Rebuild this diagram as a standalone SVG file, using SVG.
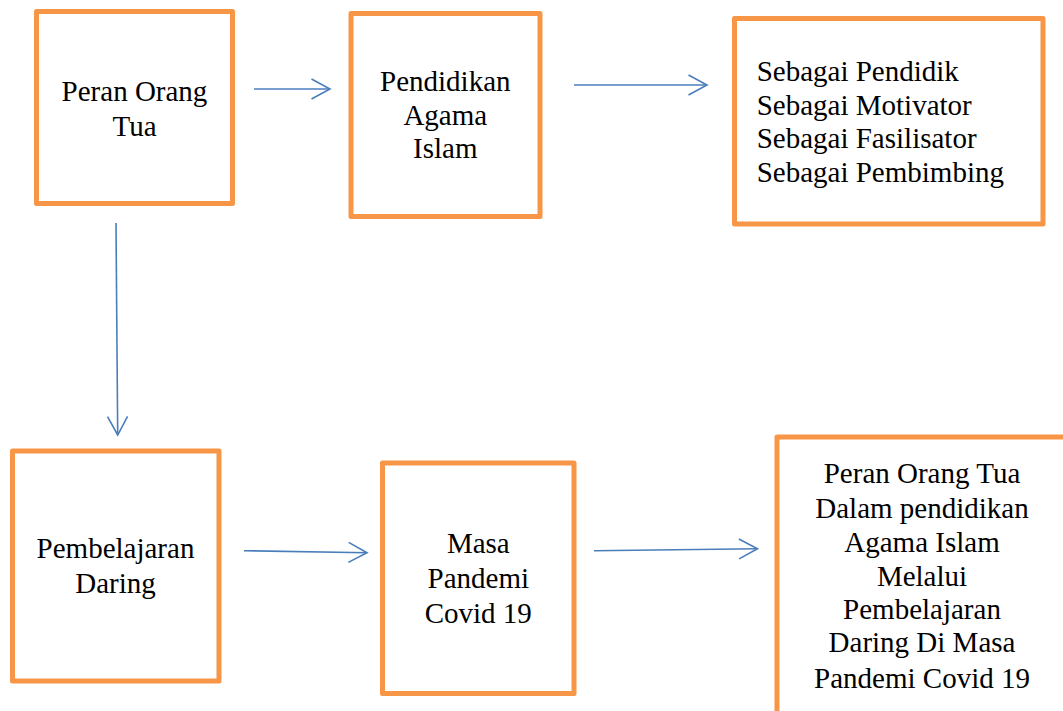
<svg xmlns="http://www.w3.org/2000/svg" width="1063" height="711" viewBox="0 0 1063 711">
<defs>
<style>
.box{fill:#fff;stroke:#F79646;stroke-width:5;stroke-linejoin:round}
.t{font-family:"Liberation Serif","Times New Roman",serif;font-size:29px;fill:#000}
.c{text-anchor:middle}
.cn{fill:none;stroke:#4A7EBB;stroke-width:1.6}
</style>
<marker id="ah" markerUnits="userSpaceOnUse" markerWidth="24" markerHeight="26" refX="18.5" refY="10" orient="auto" overflow="visible">
<path d="M0,0 L18.5,10 L0,20" fill="none" stroke="#4A7EBB" stroke-width="1.6"/>
</marker>
</defs>
<rect width="1063" height="711" fill="#fff"/>
<g id="connectors">
<line class="cn" x1="254" y1="89" x2="330" y2="89" marker-end="url(#ah)"/>
<line class="cn" x1="574" y1="85" x2="707" y2="85" marker-end="url(#ah)"/>
<line class="cn" x1="116" y1="223" x2="117.7" y2="435" marker-end="url(#ah)"/>
<line class="cn" x1="244" y1="550.7" x2="367" y2="552.7" marker-end="url(#ah)"/>
<line class="cn" x1="594" y1="550.7" x2="757.5" y2="548.7" marker-end="url(#ah)"/>
</g>
<g id="node-peran-orang-tua">
<rect class="box" x="36.5" y="11.5" width="196" height="192"/>
<text class="t c" x="134.5" y="101">Peran Orang</text>
<text class="t c" x="134.5" y="135.7">Tua</text>
</g>
<g id="node-pendidikan-agama-islam">
<rect class="box" x="351" y="13.5" width="189" height="203"/>
<text class="t c" x="445.3" y="90.7">Pendidikan</text>
<text class="t c" x="445.3" y="124.5">Agama</text>
<text class="t c" x="445.3" y="158.3">Islam</text>
</g>
<g id="node-sebagai">
<rect class="box" x="734.5" y="18.5" width="308.5" height="205.5"/>
<text class="t" x="756.7" y="81">Sebagai Pendidik</text>
<text class="t" x="756.7" y="114.7">Sebagai Motivator</text>
<text class="t" x="756.7" y="148.4">Sebagai Fasilisator</text>
<text class="t" x="756.7" y="182">Sebagai Pembimbing</text>
</g>
<g id="node-pembelajaran-daring">
<rect class="box" x="12.5" y="451" width="206.5" height="230"/>
<text class="t c" x="115.5" y="558.3">Pembelajaran</text>
<text class="t c" x="115.5" y="593.3">Daring</text>
</g>
<g id="node-masa-pandemi">
<rect class="box" x="382.5" y="463" width="191.5" height="230.5"/>
<text class="t c" x="478.3" y="553.3">Masa</text>
<text class="t c" x="478.3" y="587.7">Pandemi</text>
<text class="t c" x="478.3" y="622.7">Covid 19</text>
</g>
<g id="node-kesimpulan">
<rect class="box" x="777" y="437" width="320" height="320"/>
<text class="t c" x="922" y="483.3">Peran Orang Tua</text>
<text class="t c" x="922" y="517.7">Dalam pendidikan</text>
<text class="t c" x="922" y="552.3">Agama Islam</text>
<text class="t c" x="922" y="585.7">Melalui</text>
<text class="t c" x="922" y="619">Pembelajaran</text>
<text class="t c" x="922" y="652.3">Daring Di Masa</text>
<text class="t c" x="922" y="687.7">Pandemi Covid 19</text>
</g>
</svg>
